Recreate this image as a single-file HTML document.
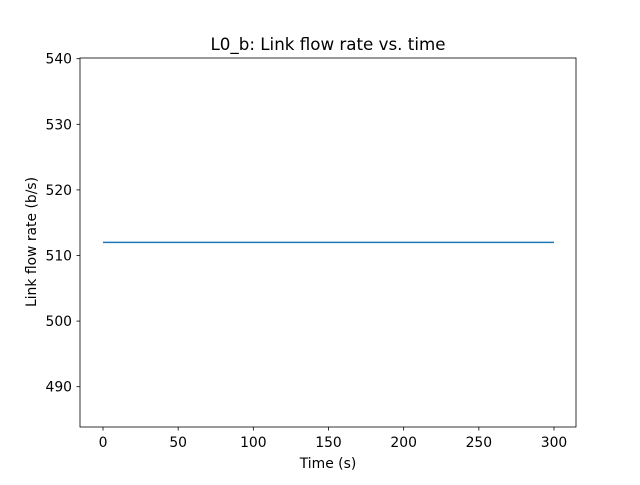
<!DOCTYPE html>
<html><head><meta charset="utf-8"><style>
body{margin:0;background:#fff;}
svg text{font-family:"DejaVu Sans","Liberation Sans",sans-serif;}
</style></head><body>
<svg id="chart" width="640" height="480" xmlns="http://www.w3.org/2000/svg">
<rect width="640" height="480" fill="#fff"/>
<text x="328" y="50" font-size="16.7" text-anchor="middle">L0_b: Link flow rate vs. time</text>
<text x="328" y="468" font-size="13.9" text-anchor="middle">Time (s)</text>
<text transform="translate(36,242) rotate(-90)" font-size="13.9" text-anchor="middle">Link flow rate (b/s)</text>
<g id="ticks"></g>
<polyline id="line" fill="none" stroke="#1f77b4" stroke-width="1.5"/>
<rect x="80" y="58" width="496" height="369" fill="none" stroke="#000" stroke-width="0.8"/>
</svg>
<script>
const times = [0, 50, 100, 150, 200, 250, 300];
const rates = [512, 512, 512, 512, 512, 512, 512];
const xTicks = [0, 50, 100, 150, 200, 250, 300];
const yTicks = [490, 500, 510, 520, 530, 540];
const xs = v => 103 + v * (451 / 300);
const ys = v => 255.5 - (v - 510) * 6.56;
const NS = "http://www.w3.org/2000/svg";
const g = document.getElementById('ticks');
function mk(tag, attrs){const e=document.createElementNS(NS,tag);for(const k in attrs)e.setAttribute(k,attrs[k]);return e;}
xTicks.forEach(t=>{
  const x=xs(t);
  const l=mk('line',{x1:x,x2:x,y1:427,y2:430.5,stroke:'#000','stroke-width':0.8});
  
  
  g.appendChild(l);
  const tx=mk('text',{x:x,y:447,'font-size':13.9,'text-anchor':'middle'});
  tx.textContent=t;
  
  
  g.appendChild(tx);
});
yTicks.forEach(t=>{
  const y=ys(t);
  const l=mk('line',{x1:76.5,x2:80,y1:y,y2:y,stroke:'#000','stroke-width':0.8});
  
  
  g.appendChild(l);
  const tx=mk('text',{x:72,y:y+5,'font-size':13.9,'text-anchor':'end'});
  tx.textContent=t;
  
  
  g.appendChild(tx);
});
document.getElementById('line').setAttribute('points', times.map((t,i)=>xs(t)+','+ys(rates[i])).join(' '));
</script>
</body></html>
